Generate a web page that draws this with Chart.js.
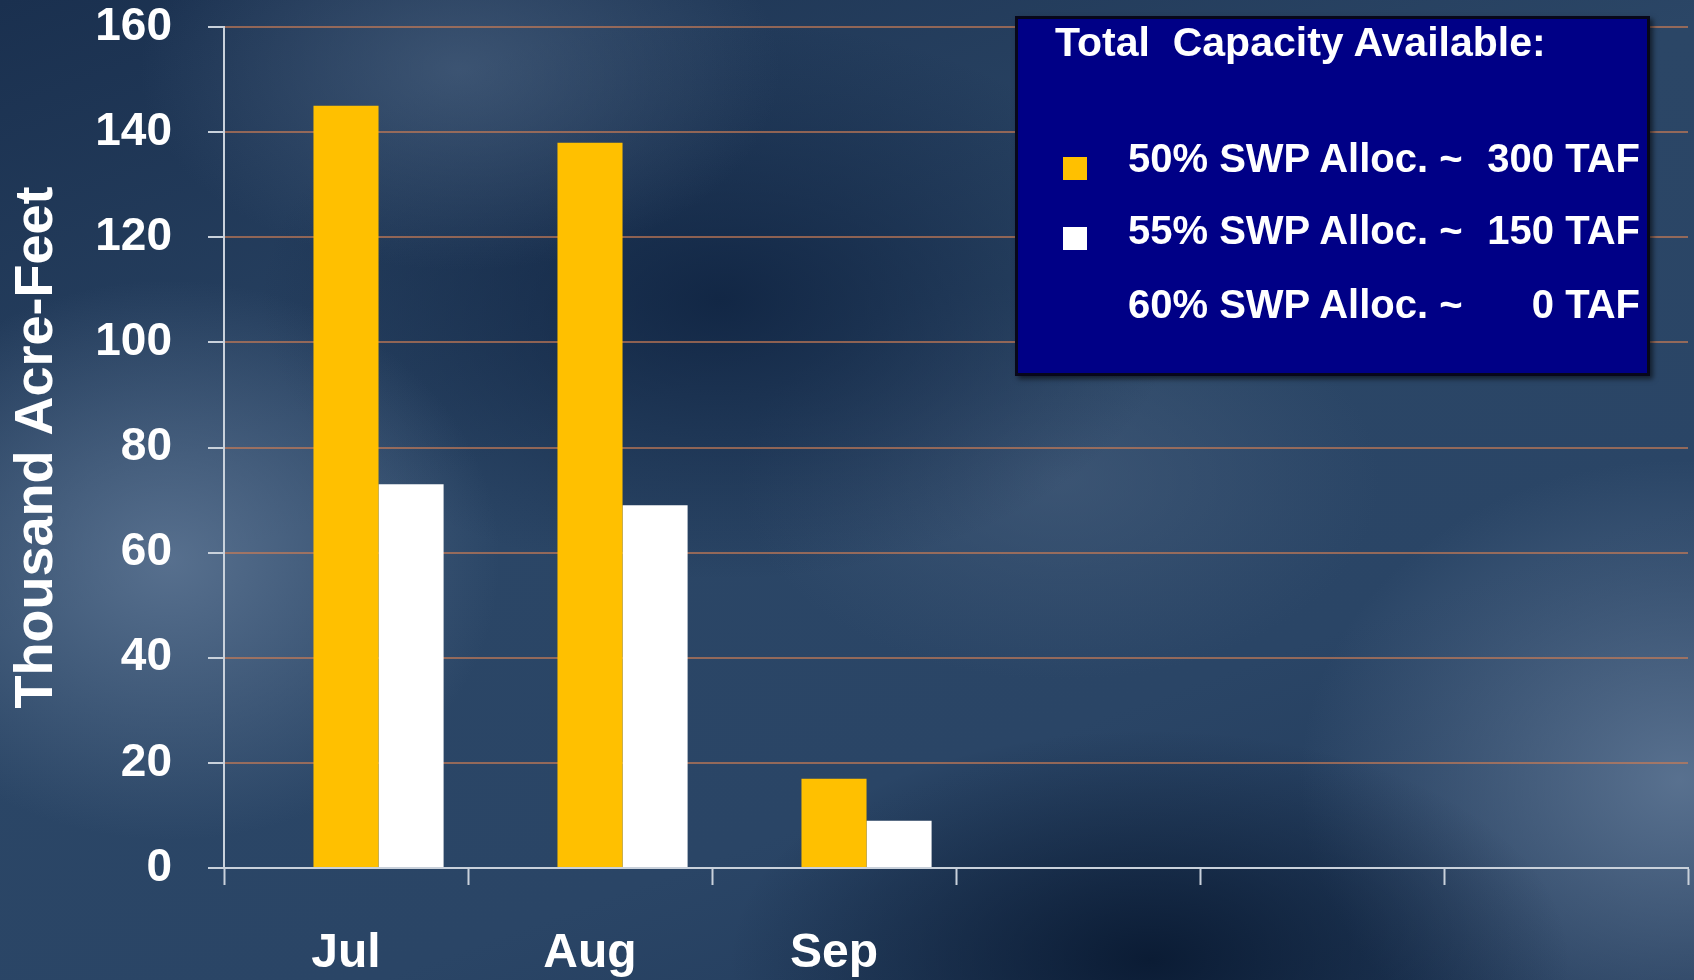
<!DOCTYPE html>
<html>
<head>
<meta charset="utf-8">
<title>Total Capacity Available</title>
<script src="https://cdn.jsdelivr.net/npm/chart.js@4.4.1/dist/chart.umd.min.js"></script>
<style>
  html, body { margin: 0; padding: 0; }
  body {
    width: 1694px;
    height: 980px;
    overflow: hidden;
    position: relative;
    background:
      radial-gradient(ellipse 330px 280px at 170px 560px, rgba(98,122,152,0.8), rgba(98,122,152,0) 100%),
      radial-gradient(ellipse 320px 200px at 460px 70px, rgba(78,102,132,0.6), rgba(78,102,132,0) 100%),
      radial-gradient(ellipse 460px 280px at 720px 300px, rgba(14,34,64,0.85), rgba(14,34,64,0) 100%),
      radial-gradient(ellipse 420px 230px at 1150px 960px, rgba(8,24,48,0.9), rgba(8,24,48,0) 100%),
      radial-gradient(ellipse 380px 320px at 1680px 780px, rgba(98,122,152,0.85), rgba(98,122,152,0) 100%),
      radial-gradient(ellipse 320px 200px at 1060px 480px, rgba(70,94,124,0.6), rgba(70,94,124,0) 100%),
      linear-gradient(160deg, #1a304f 0%, #2b4666 40%, #2a4566 70%, #1f3757 100%);
  }
  #wrap { position: absolute; left: 0; top: 0; width: 1694px; height: 980px; }
  #legend {
    position: absolute;
    left: 1015px; top: 16px;
    width: 635px; height: 360px;
    box-sizing: border-box;
    background: #000086;
    border: 3px solid #07071a;
    box-shadow: 3px 3px 5px rgba(0,0,0,0.55);
    color: #fff;
    font-family: 'Liberation Sans', Arial, sans-serif;
    font-weight: bold;
  }
  #legend .title { position: absolute; left: 37px; top: 3px; font-size: 41px; line-height: 41px; white-space: pre; }
  #legend .row { position: absolute; left: 0; right: 7px; height: 40px; font-size: 40px; line-height: 40px; }
  #legend .name { position: absolute; left: 110px; top: 0; white-space: pre; }
  #legend .total { position: absolute; right: 0; top: 0; white-space: pre; }
  #legend .mark { position: absolute; left: 45px; width: 24px; height: 23px; }
</style>
</head>
<body>
<div id="wrap"><canvas id="capacity"></canvas></div>
<div id="legend"><div class="title">Total  Capacity Available:</div></div>

<script>
  // chart data
  var categories = ['Jul', 'Aug', 'Sep', '', '', ''];
  var alloc60 = [0, 0, 0, null, null, null];
  var alloc50 = [145, 138, 17, null, null, null];
  var alloc55 = [73, 69, 9, null, null, null];
  var seriesNames = ['60% SWP Alloc. ~', '50% SWP Alloc. ~', '55% SWP Alloc. ~'];
  var seriesTotals = ['0 TAF', '300 TAF', '150 TAF'];
  var seriesColors = ['rgba(0,0,0,0)', '#FFC000', '#FFFFFF'];
  var yTicks = [0, 20, 40, 60, 80, 100, 120, 140, 160];

  var axisColor = '#c9d1db';
  var gridColor = 'rgba(205,125,85,0.65)';
  var sansFont = "'Liberation Sans', Arial, sans-serif";

  var datasets = [alloc60, alloc50, alloc55].map(function(values, i) {
    return {
      label: seriesNames[i] + ' ' + seriesTotals[i],
      data: values,
      backgroundColor: seriesColors[i],
      borderWidth: 0
    };
  });

  var chart = new Chart(document.getElementById('capacity'), {
    type: 'bar',
    data: { labels: categories, datasets: datasets },
    options: {
      responsive: true,
      maintainAspectRatio: false,
      animation: false,
      layout: { padding: { top: 27, right: 6, bottom: 0, left: 0 } },
      datasets: { bar: { categoryPercentage: 0.8, barPercentage: 1.0 } },
      plugins: {
        legend: { display: false },
        tooltip: { enabled: false }
      },
      scales: {
        x: {
          afterFit: function(scale) {
            // keep the label band the same height as the original
            scale.height = 112;
          },
          grid: {
            drawOnChartArea: false,
            drawTicks: true,
            tickLength: 17,
            tickColor: axisColor,
            tickWidth: 2,
            offset: true
          },
          border: { display: true, color: axisColor, width: 2 },
          ticks: {
            color: '#ffffff',
            font: { family: sansFont, size: 48, weight: 'bold' },
            padding: 40,
            maxRotation: 0,
            autoSkip: false
          }
        },
        y: {
          min: 0,
          max: 160,
          afterBuildTicks: function(axis) {
            axis.ticks = yTicks.map(function(v) { return { value: v }; });
          },
          afterFit: function(scale) {
            scale.width = 224;
            scale.paddingTop = 0;
            scale.paddingBottom = 0;
          },
          grid: {
            color: function(ctx) {
              return ctx.tick && ctx.tick.value === 0 ? 'rgba(0,0,0,0)' : gridColor;
            },
            lineWidth: 2,
            drawTicks: true,
            tickLength: 16,
            tickColor: axisColor,
            tickWidth: 2
          },
          border: { display: true, color: axisColor, width: 2 },
          ticks: {
            color: '#ffffff',
            font: { family: sansFont, size: 46, weight: 'bold' },
            padding: 36
          },
          title: {
            display: true,
            text: 'Thousand Acre-Feet',
            color: '#ffffff',
            font: { family: sansFont, size: 54, weight: 'bold' },
            padding: { top: 5, bottom: 0 }
          }
        }
      }
    }
  });

  // html legend, same order as the original box
  var legendOrder = [1, 2, 0];
  var rowTops = [119, 191, 265];
  var markTops = [138, 208, null];
  var legend = document.getElementById('legend');
  legendOrder.forEach(function(idx, r) {
    var row = document.createElement('div');
    row.className = 'row';
    row.style.top = rowTops[r] + 'px';
    row.innerHTML = '<span class="name">' + seriesNames[idx] + '</span><span class="total">' + seriesTotals[idx] + '</span>';
    legend.appendChild(row);
    if (markTops[r] !== null) {
      var mark = document.createElement('div');
      mark.className = 'mark';
      mark.style.top = markTops[r] + 'px';
      mark.style.background = seriesColors[idx];
      legend.appendChild(mark);
    }
  });
</script>
</body>
</html>
